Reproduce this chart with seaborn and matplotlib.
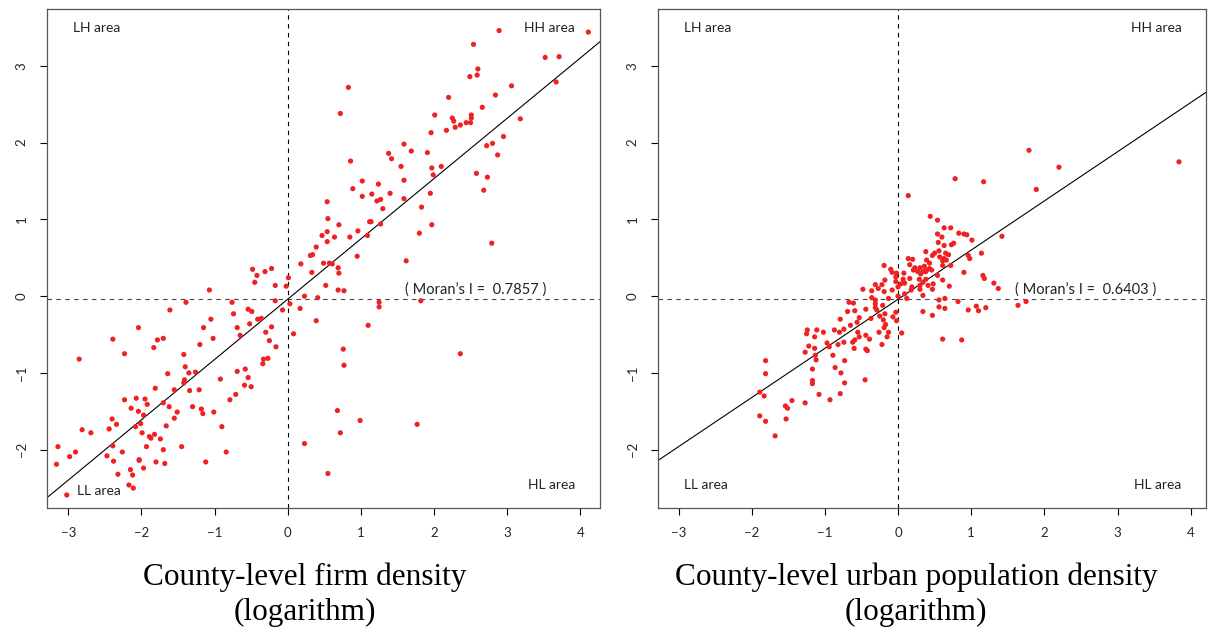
import pandas as pd
import matplotlib.pyplot as plt
import seaborn as sns

# Moran scatter plot values
firm_x = [2.89, 4.11, 2.54, 3.52, 3.71, 2.60, 2.49, 2.59, 3.67, 0.83, 3.06, 2.84, 2.20, 2.66, 0.72,
          2.01, 2.51, 2.25, 2.51, 2.27, 2.44, 2.50, 2.36, 2.29, 2.17, 3.18, 1.96, 2.95, 2.80, 2.72,
          1.59, 1.69, 1.38, 1.91, 2.87, 1.42, 0.86, 1.55, 2.10, 1.97, 2.58, 1.99, 2.73, 1.02, 1.59,
          1.24, 0.89, 2.68, 1.40, 1.15, 1.02, 1.95, 1.59, 1.27, 1.22, 1.30, 1.83, 0.54, 0.55, 1.12,
          1.14, 0.70, 1.97, 1.27, 0.54, 0.96, 0.47, 0.64, 0.85, 1.09, 1.80, 0.54, 2.79, 0.95,
          0.39, 0.31, 0.34,
          1.62, 0.49, 0.57, 0.61, 0.69, 0.70, 0.52, 0.69, 0.77, 1.25, 1.25, 1.82, 1.10, 0.76, 2.36,
          0.77, 0.68, 0.99, 1.77, 0.72, 0.55,
          0.18, 0.33, 0.01, -0.02, 0.23, 0.41, 0.03, 0.17, -0.07, 0.39, 0.08, 0.23, -0.48, -0.42,
          -0.31, -0.22, -0.45, -0.17, -0.17, -1.07, -1.39, -0.76, -1.61, -0.74, -0.54, -0.49, -0.41,
          -0.36, -0.52, -1.05, -0.69, -0.22, -0.30, -1.15, -0.65, -2.04, -1.02, -0.25, -0.16, -2.39,
          -1.78, -1.70, -1.20, -1.83, -2.23, -2.85, -1.42, -0.33, -0.27, -0.34, -1.40, -1.64, -1.35,
          -1.26, -0.58, -0.69, -0.92, -0.54, -1.41, -1.42, -0.59, -0.50, -1.81, -1.55, -1.34, -1.21,
          -0.71, -0.79, -2.23, -2.07, -1.95, -1.70, -1.92, -2.14, -2.04, -1.62, -1.30, -1.18, -1.16,
          -1.01, -1.51, -1.97, -1.55, -2.40, -2.34, -2.01, -2.08, -1.66, -2.44, -2.81, -2.69, -1.99,
          -1.82, -1.89, -1.87, -1.74, -0.90, -2.39, -1.93, -1.45, -3.14, -1.70, -2.90, -2.26, -0.84,
          -2.98, -2.47, -2.03, -2.03, -2.38, -1.80, -1.68, -1.12, -3.16, -1.97, -2.15, -2.32, -2.12,
          -2.17, -2.11, -3.02]
firm_lag = [3.46, 3.44, 3.28, 3.11, 3.12, 2.96, 2.86, 2.88, 2.79, 2.72, 2.74, 2.62, 2.59, 2.46, 2.38,
            2.36, 2.36, 2.32, 2.32, 2.28, 2.26, 2.26, 2.23, 2.20, 2.16, 2.31, 2.13, 2.08, 1.99, 1.96,
            1.98, 1.89, 1.86, 1.87, 1.84, 1.79, 1.76, 1.69, 1.69, 1.67, 1.60, 1.58, 1.55, 1.50, 1.51,
            1.46, 1.40, 1.38, 1.34, 1.33, 1.30, 1.34, 1.27, 1.26, 1.24, 1.14, 1.16, 1.23, 1.01, 0.97,
            0.97, 0.93, 0.93, 0.94, 0.84, 0.85, 0.79, 0.77, 0.77, 0.79, 0.82, 0.71, 0.69, 0.52,
            0.64, 0.53, 0.54,
            0.46, 0.43, 0.43, 0.42, 0.37, 0.30, 0.14, 0.08, 0.07, -0.08, -0.14, -0.06, -0.38, -0.69, -0.75,
            -0.90, -1.49, -1.62, -1.67, -1.78, -2.31,
            0.42, 0.31, 0.24, 0.13, 0.00, -0.02, -0.10, -0.16, -0.18, -0.32, -0.49, -1.92, 0.35, 0.27,
            0.32, 0.36, 0.18, 0.14, -0.06, 0.08, -0.08, -0.08, -0.18, -0.23, -0.17, -0.20, -0.30,
            -0.29, -0.36, -0.30, -0.41, -0.40, -0.47, -0.41, -0.51, -0.41, -0.55, -0.58, -0.66, -0.56,
            -0.57, -0.55, -0.63, -0.67, -0.75, -0.82, -0.76, -0.82, -0.81, -0.88, -0.92, -1.01, -1.00,
            -0.99, -0.95, -0.98, -1.08, -1.06, -1.09, -1.13, -1.16, -1.18, -1.20, -1.22, -1.23, -1.22,
            -1.28, -1.35, -1.35, -1.33, -1.34, -1.39, -1.41, -1.46, -1.50, -1.44, -1.44, -1.47, -1.53,
            -1.51, -1.51, -1.55, -1.59, -1.60, -1.67, -1.66, -1.70, -1.69, -1.73, -1.74, -1.78, -1.78,
            -1.80, -1.83, -1.85, -1.86, -1.70, -1.95, -1.96, -1.96, -1.96, -2.00, -2.03, -2.03, -2.03,
            -2.09, -2.08, -2.13, -2.14, -2.15, -2.16, -2.18, -2.16, -2.19, -2.24, -2.26, -2.32, -2.33,
            -2.46, -2.50, -2.59]

pop_x = [0.78, 0.14, 0.44, 0.54, 0.63, 0.72, 0.54, 0.83, 0.90, 0.94, 0.60, 1.01, 0.55, 0.76, 0.73,
         0.63, 0.38, 0.56, 0.50, 0.65, 0.69, 0.47, 0.57, 0.63, 0.96, 0.98, 0.14, 0.20, 0.39, 0.66,
         0.61, 0.43, 0.16, 0.61, -0.19, 0.36, 0.72, 0.23, 0.30, 0.43, -0.10, 0.21, 0.39, 0.46, 0.27,
         0.34, 0.38, -0.08, -0.02, 0.08, 0.31, 0.90, 0.54, -0.03, 0.16, 0.29, 0.38, 0.61, 0.07, -0.18,
         -0.03, 0.34, 0.48, 0.09, 0.04, -0.31, -0.22, 0.19, 0.30, 0.41, 0.70, 0.00, -0.27, -0.48,
         -0.36, -0.19, 0.47, 0.30, -0.08, 0.18, 0.34, 0.09, 0.00, -0.36, -0.13, 0.12, 0.64, -0.31,
         0.56, 0.82, 1.07, 1.10, 0.96, 0.56, 0.64, 0.34, 0.47, 0.61, 0.87, 0.05, -0.02, -0.03, -0.07,
         -0.21, -0.31, -0.31, -0.29, -0.18, -0.25, -0.37, -0.20, -0.44, -0.67, -0.61, -0.69, -0.59,
         -0.53, -0.79, -0.56, -0.65, -0.17, -0.19, -0.26, -0.13, -0.15, -0.44, -0.39, -0.55, -0.53,
         -0.59, -0.62, -0.22, -0.74, -0.80, -0.87, -1.02, -1.11, -1.24, -1.25, -1.14, -0.97, -0.94,
         -0.82, -0.74, -0.60, -0.44, -0.42, -1.22, -1.14, -1.27, -1.13, -0.89, -1.12, -0.73, -1.81,
         -1.17, -0.86, -0.78, -1.81, -1.17, -1.17, -0.73, -0.45, -1.89, -1.83, -1.08, -0.79, -0.93,
         -1.45, -1.27, -1.54, -1.51, -1.89, -1.53, -1.81, -1.68,
         1.79, 3.84, 2.20, 1.17, 1.89, 1.42, 1.14, 1.16, 1.18, 1.31, 1.37, 1.64, 1.75, 1.20]
pop_lag = [1.53, 1.31, 1.04, 0.99, 0.89, 0.89, 0.81, 0.82, 0.81, 0.80, 0.77, 0.73, 0.70, 0.69, 0.67,
           0.66, 0.58, 0.59, 0.56, 0.56, 0.54, 0.53, 0.51, 0.49, 0.53, 0.49, 0.49, 0.48, 0.47, 0.47,
           0.46, 0.43, 0.41, 0.40, 0.40, 0.39, 0.40, 0.37, 0.37, 0.36, 0.35, 0.34, 0.34, 0.34, 0.32,
           0.32, 0.32, 0.31, 0.30, 0.30, 0.29, 0.31, 0.27, 0.25, 0.23, 0.22, 0.22, 0.21, 0.22, 0.21,
           0.19, 0.18, 0.16, 0.17, 0.16, 0.15, 0.15, 0.12, 0.14, 0.14, 0.13, 0.12, 0.10, 0.09,
           0.07, 0.06, 0.09, 0.09, 0.08, 0.08, 0.01, 0.03, 0.00, -0.02, -0.03, -0.03, -0.03, -0.05,
           -0.05, -0.07, -0.13, -0.19, -0.18, -0.14, -0.16, -0.20, -0.25, -0.56, -0.57, -0.48, -0.32,
           -0.21, -0.27, -0.12, -0.10, -0.15, -0.18, -0.23, -0.26, -0.29, -0.31, -0.17, -0.08, -0.09,
           -0.20, -0.19, -0.28, -0.30, -0.34, -0.38, -0.37, -0.41, -0.47, -0.47, -0.53, -0.51, -0.56,
           -0.47, -0.53, -0.57, -0.60, -0.63, -0.43, -0.47, -0.44, -0.47, -0.44, -0.44, -0.49, -0.53,
           -0.61, -0.66, -0.63, -0.60, -0.68, -0.69, -0.71, -0.65, -0.68, -0.73, -0.77, -0.77, -0.83,
           -0.84, -0.84, -0.95, -0.93, -1.00, -1.01, -1.10, -1.14, -1.13, -1.09, -1.25, -1.30, -1.28,
           -1.27, -1.35, -1.36, -1.39, -1.43, -1.46, -1.56, -1.60, -1.63, -1.82,
           1.90, 1.75, 1.68, 1.49, 1.39, 0.78, 0.56, 0.27, 0.23, 0.17, 0.10, -0.12, -0.07, -0.15]

panels = [
    dict(x=firm_x, y=firm_lag, moran=0.7857, mean_lag=-0.04,
         xlabel="County-level firm density\n(logarithm)", xlim=(-3.29, 4.27)),
    dict(x=pop_x, y=pop_lag, moran=0.6403, mean_lag=-0.04,
         xlabel="County-level urban population density\n(logarithm)", xlim=(-3.28, 4.21)),
]

sns.set_theme(style="ticks")
plt.rcParams['font.family'] = ['Lato', 'DejaVu Sans']
plt.rcParams['axes.unicode_minus'] = True

fig = plt.figure(figsize=(12.11, 6.34), dpi=100)
boxes = [[0.0388, 0.1987, 0.4567, 0.787], [0.5434, 0.1987, 0.4525, 0.787]]
label_x = [0.4665, 0.471]

for i, p in enumerate(panels):
    ax = fig.add_axes(boxes[i])
    df = pd.DataFrame({'x': p['x'], 'lag': p['y']})
    sns.scatterplot(data=df, x='x', y='lag', ax=ax, color='#ee2222', s=14,
                    edgecolor='none', linewidth=0, zorder=3)
    ax.axline((0, p['mean_lag']), slope=p['moran'], color='black', lw=0.8, zorder=2)
    ax.axvline(0, color='black', lw=0.8, ls=(0, (4, 4)), zorder=1)
    ax.axhline(p['mean_lag'], color='#444444', lw=0.8, ls=(0, (4, 4)), zorder=1)

    ax.set_xlim(*p['xlim'])
    ax.set_ylim(-2.76, 3.74)
    ax.set_xticks(range(-3, 5))
    ax.set_yticks(range(-2, 4))
    ax.tick_params(axis='both', direction='out', length=5, width=0.8, labelsize=9.5,
                   color='black', pad=9)
    for lab in ax.get_yticklabels():
        lab.set_rotation(90)
        lab.set_va('center')
    for sp in ax.spines.values():
        sp.set_color('#555555')
        sp.set_linewidth(0.9)

    ax.set_ylabel('')
    ax.set_xlabel(p['xlabel'], family='Liberation Serif', fontsize=22.5, linespacing=1.25,
                  color='black')
    ax.xaxis.set_label_coords(label_x[i], -0.11)

    ax.text(0.047, 0.962, 'LH area', transform=ax.transAxes, fontsize=10, va='center', ha='left',
            color='#222222')
    ax.text(0.955, 0.962, 'HH area', transform=ax.transAxes, fontsize=10, va='center', ha='right',
            color='#222222')
    ax.text(0.047 if i else 0.054, 0.046 if i else 0.034, 'LL area', transform=ax.transAxes,
            fontsize=10, va='center', ha='left', color='#222222')
    ax.text(0.955, 0.046, 'HL area', transform=ax.transAxes, fontsize=10, va='center', ha='right',
            color='#222222')
    ax.text(2.57, 0.09, f'( Moran\u2019s I =  {p["moran"]:.4f} )', fontsize=10.5, ha='center',
            va='center', color='#222222')

fig.savefig('out.png', dpi=100)
